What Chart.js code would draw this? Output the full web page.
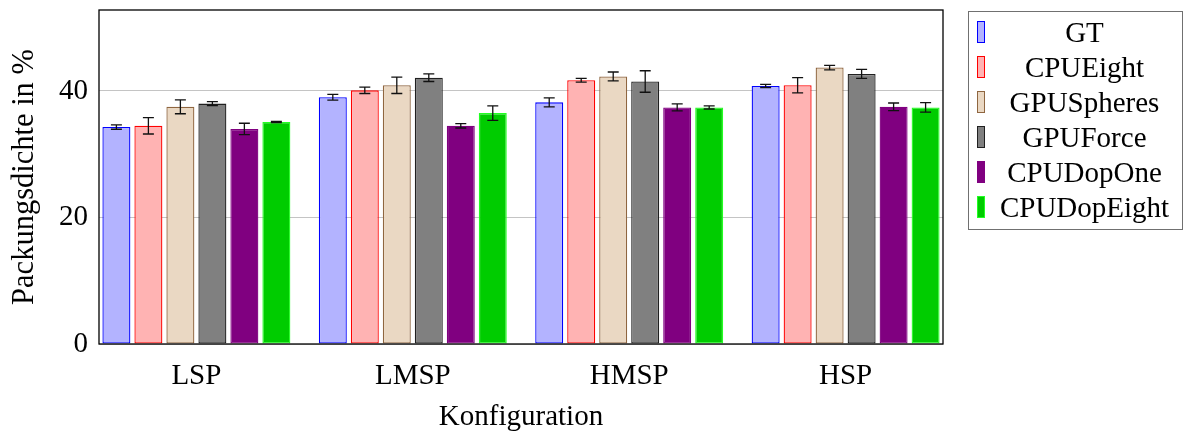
<!DOCTYPE html>
<html>
<head>
<meta charset="utf-8">
<script src="https://cdn.jsdelivr.net/npm/chart.js@4/dist/chart.umd.min.js"></script>
<style>
  html, body { margin: 0; padding: 0; background: #fff; }
  #wrap { position: relative; width: 1186px; height: 432px; }
  #legend { position: absolute; left: 968px; top: 11px; width: 215px; height: 219px; border: 1.5px solid #707070; box-sizing: border-box; }
  .row { position: absolute; left: 0; width: 100%; height: 35px; }
  .mk { position: absolute; left: 8px; top: 6px; width: 6px; height: 20px; border: 1.3px solid; }
  .lb { position: absolute; left: 22px; right: 4px; top: 0; height: 35px; line-height: 35px; text-align: center; font-family: "Liberation Serif", serif; font-size: 29px; color: #000; white-space: nowrap; }
</style>
</head>
<body>
<div id="wrap">
  <canvas id="c" width="1186" height="432"></canvas>
  <div id="legend"></div>
</div>
<script>
const categories = ["LSP", "LMSP", "HMSP", "HSP"];
const seriesNames = ["GT", "CPUEight", "GPUSpheres", "GPUForce", "CPUDopOne", "CPUDopEight"];
const gtValues          = [34.3, 39.0, 38.2, 40.8];
const gtErrors          = [0.35, 0.45, 0.7, 0.25];
const cpuEightValues    = [34.5, 40.1, 41.7, 40.9];
const cpuEightErrors    = [1.3, 0.5, 0.3, 1.2];
const gpuSpheresValues  = [37.5, 40.9, 42.3, 43.7];
const gpuSpheresErrors  = [1.1, 1.3, 0.7, 0.35];
const gpuForceValues    = [38.0, 42.1, 41.5, 42.7];
const gpuForceErrors    = [0.3, 0.6, 1.7, 0.7];
const cpuDopOneValues   = [34.0, 34.5, 37.4, 37.5];
const cpuDopOneErrors   = [0.9, 0.35, 0.55, 0.6];
const cpuDopEightValues = [35.1, 36.5, 37.4, 37.4];
const cpuDopEightErrors = [0.1, 1.15, 0.25, 0.75];
const yTicks = [0, 20, 40];

const fills   = ["#b3b3ff", "#ffb3b3", "#ead8c3", "#808080", "#800080", "#00cc00"];
const borders = ["#0000ff", "#ff0000", "#8f6640", "#202020", "#800080", "#22ff22"];
const allValues = [gtValues, cpuEightValues, gpuSpheresValues, gpuForceValues, cpuDopOneValues, cpuDopEightValues];
const allErrors = [gtErrors, cpuEightErrors, gpuSpheresErrors, gpuForceErrors, cpuDopOneErrors, cpuDopEightErrors];

const FONT = "'Liberation Serif', serif";

const datasets = seriesNames.map((name, s) => ({
  label: name,
  data: allValues[s].map((v, i) => ({ x: i, y: v })),
  errors: allErrors[s],
  backgroundColor: fills[s],
  borderColor: borders[s],
  borderWidth: 1.3,
  borderSkipped: false,
  categoryPercentage: 0.887,
  barPercentage: 0.875
}));

const errorBars = {
  id: 'errorBars',
  afterDatasetsDraw(chart) {
    const ctx = chart.ctx;
    const ys = chart.scales.y;
    ctx.save();
    ctx.strokeStyle = '#111';
    ctx.lineWidth = 1.3;
    chart.data.datasets.forEach((ds, di) => {
      const meta = chart.getDatasetMeta(di);
      meta.data.forEach((el, i) => {
        const v = ds.data[i].y, e = ds.errors[i];
        const yt = ys.getPixelForValue(v + e), yb = ys.getPixelForValue(v - e);
        const x = el.x;
        ctx.beginPath();
        ctx.moveTo(x, yt); ctx.lineTo(x, yb);
        ctx.moveTo(x - 5.5, yt); ctx.lineTo(x + 5.5, yt);
        ctx.moveTo(x - 5.5, yb); ctx.lineTo(x + 5.5, yb);
        ctx.stroke();
      });
    });
    ctx.restore();
  },
  afterDraw(chart) {
    const a = chart.chartArea, ctx = chart.ctx;
    ctx.save();
    ctx.strokeStyle = '#000';
    ctx.lineWidth = 1.3;
    ctx.strokeRect(a.left, a.top, a.right - a.left, a.bottom - a.top);
    ctx.restore();
  }
};

new Chart(document.getElementById('c'), {
  type: 'bar',
  data: { datasets },
  options: {
    responsive: false,
    animation: false,
    layout: { padding: { left: 0, right: 243, top: 10, bottom: 0 } },
    plugins: { legend: { display: false }, tooltip: { enabled: false } },
    scales: {
      x: {
        type: 'linear',
        min: -0.45, max: 3.45,
        offset: false,
        afterBuildTicks(scale) { scale.ticks = categories.map((c, i) => ({ value: i })); },
        afterFit(scale) { scale.height = 88; scale.paddingLeft = 0; scale.paddingRight = 0; },
        grid: { display: false, drawTicks: false },
        border: { display: false },
        ticks: {
          padding: 15,
          color: '#000',
          font: { family: FONT, size: 29, lineHeight: 1.2 },
          callback: (v) => categories[v],
          maxRotation: 0, autoSkip: false
        },
        title: { display: true, text: 'Konfiguration', color: '#000', font: { family: FONT, size: 29, lineHeight: 1 }, padding: { top: 0, bottom: 0 } }
      },
      y: {
        min: 0, max: 52.8,
        afterBuildTicks(scale) { scale.ticks = yTicks.map(v => ({ value: v })); },
        afterFit(scale) { scale.width = 99; scale.paddingTop = 0; scale.paddingBottom = 0; },
        grid: { color: '#c4c4c4', lineWidth: 1, drawTicks: false },
        border: { display: false },
        ticks: { padding: 11, color: '#000', font: { family: FONT, size: 29 } },
        title: { display: true, text: 'Packungsdichte in %', color: '#000', font: { family: FONT, size: 30.5, lineHeight: 1 }, padding: { top: 10, bottom: 0 } }
      }
    }
  },
  plugins: [errorBars]
});

const lg = document.getElementById('legend');
seriesNames.forEach((n, s) => {
  const row = document.createElement('div');
  row.className = 'row';
  row.style.top = (3 + s * 35) + 'px';
  const mk = document.createElement('div');
  mk.className = 'mk';
  mk.style.background = fills[s];
  mk.style.borderColor = borders[s];
  const lb = document.createElement('div');
  lb.className = 'lb';
  lb.textContent = n;
  row.appendChild(mk); row.appendChild(lb);
  lg.appendChild(row);
});
</script>
</body>
</html>
